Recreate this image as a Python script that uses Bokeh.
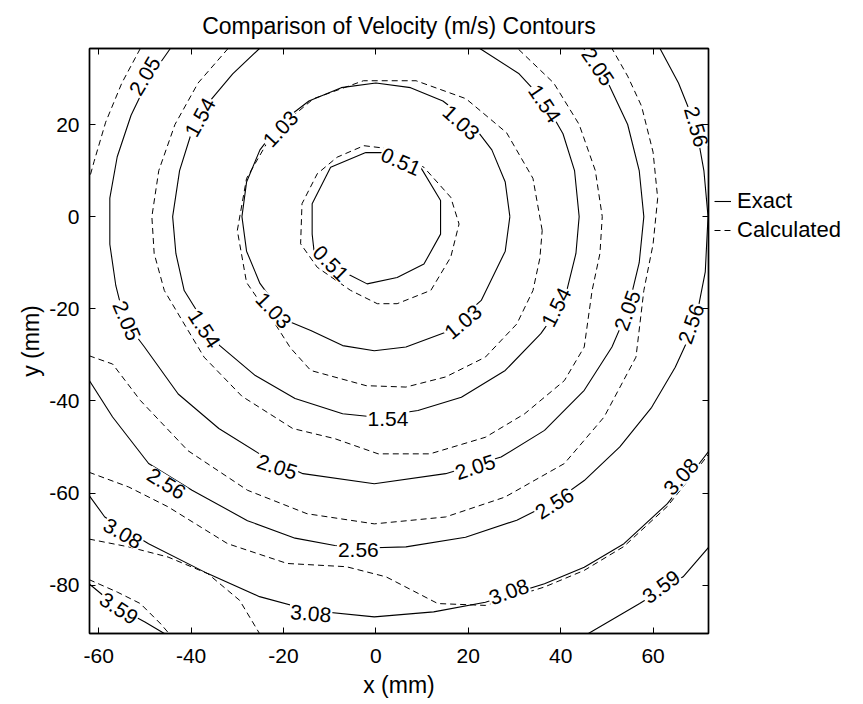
import numpy as np
from bokeh.plotting import figure
from bokeh.layouts import row
from bokeh.models import (LinearAxis, Range1d, FixedTicker, Legend, LegendItem,
                          ColumnDataSource)
from bokeh.core.properties import value
from bokeh.embed import file_html
from bokeh.resources import INLINE

nan = float("nan")

# contour levels (m/s)
levels = [0.51, 1.03, 1.54, 2.05, 2.56, 3.08, 3.59]

x_ticks = [-60, -40, -20, 0, 20, 40, 60]
x_tick_labels = ["-60", "-40", "-20", "0", "20", "40", "60"]
y_ticks = [-80, -60, -40, -20, 0, 20]
y_tick_labels = ["-80", "-60", "-40", "-20", "0", "20"]

# ---- exact solution contours (x, y in mm) ----
exact_051_x = [-2.2, 2.5, 9.7, 14.0, 14.0, 10.4, 4.6, -1.9, -6.2, -13.4, -13.8, -13.8, -9.8, -2.2]
exact_051_y = [13.9, 13.9, 10.7, 3.5, -3.8, -10.3, -13.2, -14.6, -12.4, -7.4, -3.8, 2.8, 10.7, 13.9]

exact_103_x = [29, 28, 25.1, 20.5, 14.5, 7.5, 0, -7.5, -14.5, -20.5, -25.1, -28, -29, -28, -25.1, -19.2,
               -14.1, -7.2, -0.35, 6.5, 15.1, 22.8, 28, 29]
exact_103_y = [0, 7.5, 14.5, 20.5, 25.1, 28, 29, 28, 25.1, 20.5, 14.5, 7.5, 0, -7.5, -14.5, -22.6,
               -24.7, -28, -29.1, -28.3, -25.1, -18.2, -7.5, 0]

exact_154_x = [-25.2, -31, -36, -40, -42.5, -44, -43.3, -41.5, -37.5, -33.8, -26.1, -17.5, -7.2, -0.35,
               9.1, 18.5, 28, 35.7, 40.8, 43.3, 44, 43, 40.5, 36.5, 31, 22.5]
exact_154_y = [36.5, 31, 25, 18, 10, 0, -8, -16.05, -22.5, -28, -34.5, -39.5, -42.8, -43.5,
               -42.1, -39.2, -33.4, -25.4, -18.2, -8, 0, 10, 18, 25, 31, 36.5]

exact_205_x = [-44.5, -49.4, -53, -56, -57.6, -57.6, -56.3, -54.4, -50.1, -42.8, -34, -25.2, -15.8, -0.35,
               15.1, 27.1, 36.5, 45.1, 51.1, 54.5, 57, 58, 57, 54.5, 50.5, 45]
exact_205_y = [36.5, 29.5, 22, 13, 4, -6, -15, -22.6, -28.3, -38.5, -46, -51.5, -55.8, -58,
               -55.8, -52.2, -46.4, -37.7, -28.3, -20.4, -10, 0, 10, 20, 28.5, 36.5]

exact_256_x = [-62.1, -57, -49.2, -39.8, -27.8, -17.5, -8.9, -0.35, 6.5, 19.4, 30.5, 39.1, 45.1, 52.8,
               59.7, 64.8, 69.1, 71.3, 71.9, 71, 69.3, 65.5, 61.5]
exact_256_y = [-35.5, -43.5, -53.6, -59.4, -66, -69.8, -71.4, -71.9, -71.7, -69.6, -65.9, -61.6, -57.3, -50,
               -41.4, -32.7, -23.3, -12, 0, 10, 19.5, 29, 36.5]

exact_308_x = [-62.1, -58.7, -49.2, -36.4, -25.2, -14.1, -0.35, 12.5, 23.7, 36.5, 45.1, 53.7, 63.1, 70, 72]
exact_308_y = [-60.5, -65.2, -71, -77.5, -82.5, -85.5, -86.9, -85.8, -83.7, -79.7, -76.1, -71, -62.3, -53.6, -51]

exact_359_x = [-62.1, -56.1, -50, -45.8, nan, 46, 57.1, 66.5, 72.1]
exact_359_y = [-79.7, -84.7, -88, -90.5, nan, -90.5, -84, -78.2, -71.7]

# ---- calculated contours (x, y in mm) ----
calc_051_x = [-2.6, 3.2, 10.4, 16.2, 18.0, 16.2, 11.9, 4.6, 0.3, -5.5, -12.7, -16.3, -16.0, -12.7, -8.4, -2.6]
calc_051_y = [15.4, 14.7, 10.7, 4.2, -1.6, -8.8, -16.0, -18.9, -18.9, -16.0, -11.0, -5.9, 2.8, 9.3, 12.9, 15.4]

calc_103_x = [36, 34, 28.3, 19.5, 8.7, -2.7, -13.5, -22.3, -28, -30, -28, -22, -18.5, -14.1, -2.1, 6.5,
              15.1, 23.7, 30.5, 34, 35.5, 36]
calc_103_y = [-3, 8.3, 18.2, 25.6, 29.5, 29.5, 25.6, 18.2, 8.3, -3, -14.3, -23, -28.5, -33.4, -36.7, -37,
              -34.8, -30.5, -23.3, -16.05, -9, -3]

calc_154_x = [-32, -38.5, -43.5, -47, -48.5, -48, -45.8, -41.5, -37.2, -29, -18, -8.9, 0.5, 11.7, 23.7,
              32.2, 40.8, 45.1, 46.8, 48.5, 49, 47.5, 44, 38.5, 30.7]
calc_154_y = [36.5, 29, 20, 10, 0, -8, -16.05, -23.3, -30.5, -39, -46, -48.2, -51.5, -51.5, -47.9,
              -42.8, -35.6, -28.3, -16.05, -8, 0, 10, 20, 29, 36.5]

calc_205_x = [-51, -55, -58.5, -61, -62.1, nan, -62.1, -57, -51, -40.7, -27.8, -14.9, -0.35, 15.1, 27.9,
              40.8, 49.4, 56.3, 58, 60, 61, 60, 57.5, 54.5, 51.1]
calc_205_y = [36.5, 29, 20.5, 12, 8, nan, -30.2, -32, -39.9, -50.8, -59.4, -64.5, -66.7, -65.2, -60.9,
              -53.6, -43.5, -30.5, -16.05, -6, 4, 14, 24, 30.5, 36.5]

calc_256_x = [-62.1, -53.5, -45, -32.1, -19.2, -6.4, 2.2, 13.4, 23.7, 36.5, 45.1, 53.7, 63.1, 70, 72]
calc_256_y = [-55.5, -58.7, -63, -71, -75.3, -76, -78.2, -84, -84.4, -80.4, -76.8, -71.6, -62.9, -54.2, -51.6]

calc_308_x = [-62.1, -53.5, -45, -36.4, -29.5, -25.2]
calc_308_y = [-70, -71.7, -73.9, -77.5, -83.3, -90.5]

calc_359_x = [-62.1, -56, -51, -46.5, -44.8]
calc_359_y = [-78.8, -81.5, -84, -88.5, -90.5]

# ---- inline labels on the exact contours ----
lab_text = ["0.51", "0.51",
            "1.03", "1.03", "1.03", "1.03",
            "1.54", "1.54", "1.54", "1.54", "1.54",
            "2.05", "2.05", "2.05", "2.05", "2.05", "2.05",
            "2.56", "2.56", "2.56", "2.56", "2.56",
            "3.08", "3.08", "3.08", "3.08",
            "3.59", "3.59"]
lab_x = [5.4, -9.8,
         -20.6, 18.4, -22.2, 18.9,
         -38.0, 36.5, -37.2, 39.1, 2.6,
         -50.0, 48.0, -54.0, -21.4, 21.5, 54.5,
         69.3, -45.4, -3.8, 38.7, 68.3,
         -54.8, -14.1, 28.8, 66.1,
         -55.7, 61.8]
lab_y = [11.9, -10.2,
         19.0, 20.4, -20.4, -22.9,
         21.5, 24.5, -24.4, -19.7, -43.9,
         30.5, 32.5, -22.6, -54.4, -54.4, -20.4,
         19.5, -58.0, -72.4, -62.3, -23.3,
         -68.8, -86.2, -81.5, -56.5,
         -85.1, -80.4]
lab_angle = [-24, -45,
             47, -42, -47, 40,
             61, -56, -57, 63, 0,
             59, -56, -67, -18, 18, 70,
             -74, -32, 0, 32, 71,
             -30, -5, 20, 48,
             -33, 36]

FONT = "Liberation Sans"

p = figure(width=714, height=704, x_range=Range1d(-62, 72), y_range=Range1d(-90.5, 36.5),
           output_backend="svg", toolbar_location=None,
           title="Comparison of Velocity (m/s) Contours",
           min_border_left=89, min_border_right=6, min_border_top=47, min_border_bottom=71,
           x_axis_label="x (mm)", y_axis_label="y (mm)")
p.xgrid.visible = False
p.ygrid.visible = False
p.outline_line_color = "black"
p.outline_line_width = 1.4
p.background_fill_color = "white"
p.border_fill_color = "white"

p.title.align = "center"
p.title.text_font = FONT
p.title.text_font_size = "23px"
p.title.text_font_style = "normal"
p.title.text_color = "black"
p.title.standoff = 20

for ax, ticks, names in ((p.xaxis[0], x_ticks, x_tick_labels), (p.yaxis[0], y_ticks, y_tick_labels)):
    ax.ticker = FixedTicker(ticks=ticks)
    ax.major_label_overrides = {t: s for t, s in zip(ticks, names)}
    ax.major_tick_in = 6
    ax.major_tick_out = 0
    ax.minor_tick_line_color = None
    ax.axis_line_color = "black"
    ax.axis_line_width = 1.4
    ax.major_label_text_font = FONT
    ax.major_label_text_font_size = "21px"
    ax.major_label_text_color = "black"
    ax.axis_label_text_font = FONT
    ax.axis_label_text_font_size = "23px"
    ax.axis_label_text_font_style = "normal"
    ax.axis_label_text_color = "black"
p.xaxis[0].major_label_standoff = 15
p.xaxis[0].axis_label_standoff = 6
p.yaxis[0].major_label_standoff = 10
p.yaxis[0].axis_label_standoff = 2

# mirrored ticks on the top and right edges of the box
for place, ticks in (("above", x_ticks), ("right", y_ticks)):
    ax = LinearAxis(ticker=FixedTicker(ticks=ticks), major_tick_in=6, major_tick_out=0,
                    minor_tick_line_color=None, axis_line_color="black", axis_line_width=1.4,
                    major_label_text_font_size="0px", major_label_standoff=0)
    p.add_layout(ax, place)

exact_sets = [(exact_051_x, exact_051_y), (exact_103_x, exact_103_y), (exact_154_x, exact_154_y),
              (exact_205_x, exact_205_y), (exact_256_x, exact_256_y), (exact_308_x, exact_308_y),
              (exact_359_x, exact_359_y)]
calc_sets = [(calc_051_x, calc_051_y), (calc_103_x, calc_103_y), (calc_154_x, calc_154_y),
             (calc_205_x, calc_205_y), (calc_256_x, calc_256_y), (calc_308_x, calc_308_y),
             (calc_359_x, calc_359_y)]

SOLID = dict(line_color="black", line_width=1.1)
DASHED = dict(line_color="black", line_width=1.0, line_dash="6 4")

for xs, ys in exact_sets:
    p.line(xs, ys, **SOLID)
for xs, ys in calc_sets:
    p.line(xs, ys, **DASHED)

labels = ColumnDataSource(dict(x=lab_x, y=lab_y, text=lab_text, angle=lab_angle))
p.text(x="x", y="y", text="text", angle="angle", angle_units="deg", source=labels,
       text_font=value(FONT), text_font_size=value("21px"), text_color="black",
       text_align="center", text_baseline="middle",
       background_fill_color="white", padding=1)

# legend panel to the right of the box; its two key lines hold a single
# undefined point so that only the legend swatches are drawn
key = figure(width=149, height=704, x_range=Range1d(0, 1), y_range=Range1d(0, 1),
             output_backend="svg", toolbar_location=None, min_border=0)
key.axis.visible = False
key.grid.visible = False
key.outline_line_color = None
key.background_fill_color = "white"
key.border_fill_color = "white"
exact_key = key.line([nan], [nan], **SOLID)
calc_key = key.line([nan], [nan], **DASHED)
legend = Legend(items=[LegendItem(label="Exact", renderers=[exact_key]),
                       LegendItem(label="Calculated", renderers=[calc_key])],
                location=(0, 390), border_line_color=None, background_fill_alpha=0,
                label_text_font=FONT, label_text_font_size="22px", label_text_color="black",
                glyph_width=17, spacing=3, padding=0, margin=0, label_standoff=6)
key.add_layout(legend, "center")

open("out.html", "w").write(file_html(row(p, key), INLINE))
